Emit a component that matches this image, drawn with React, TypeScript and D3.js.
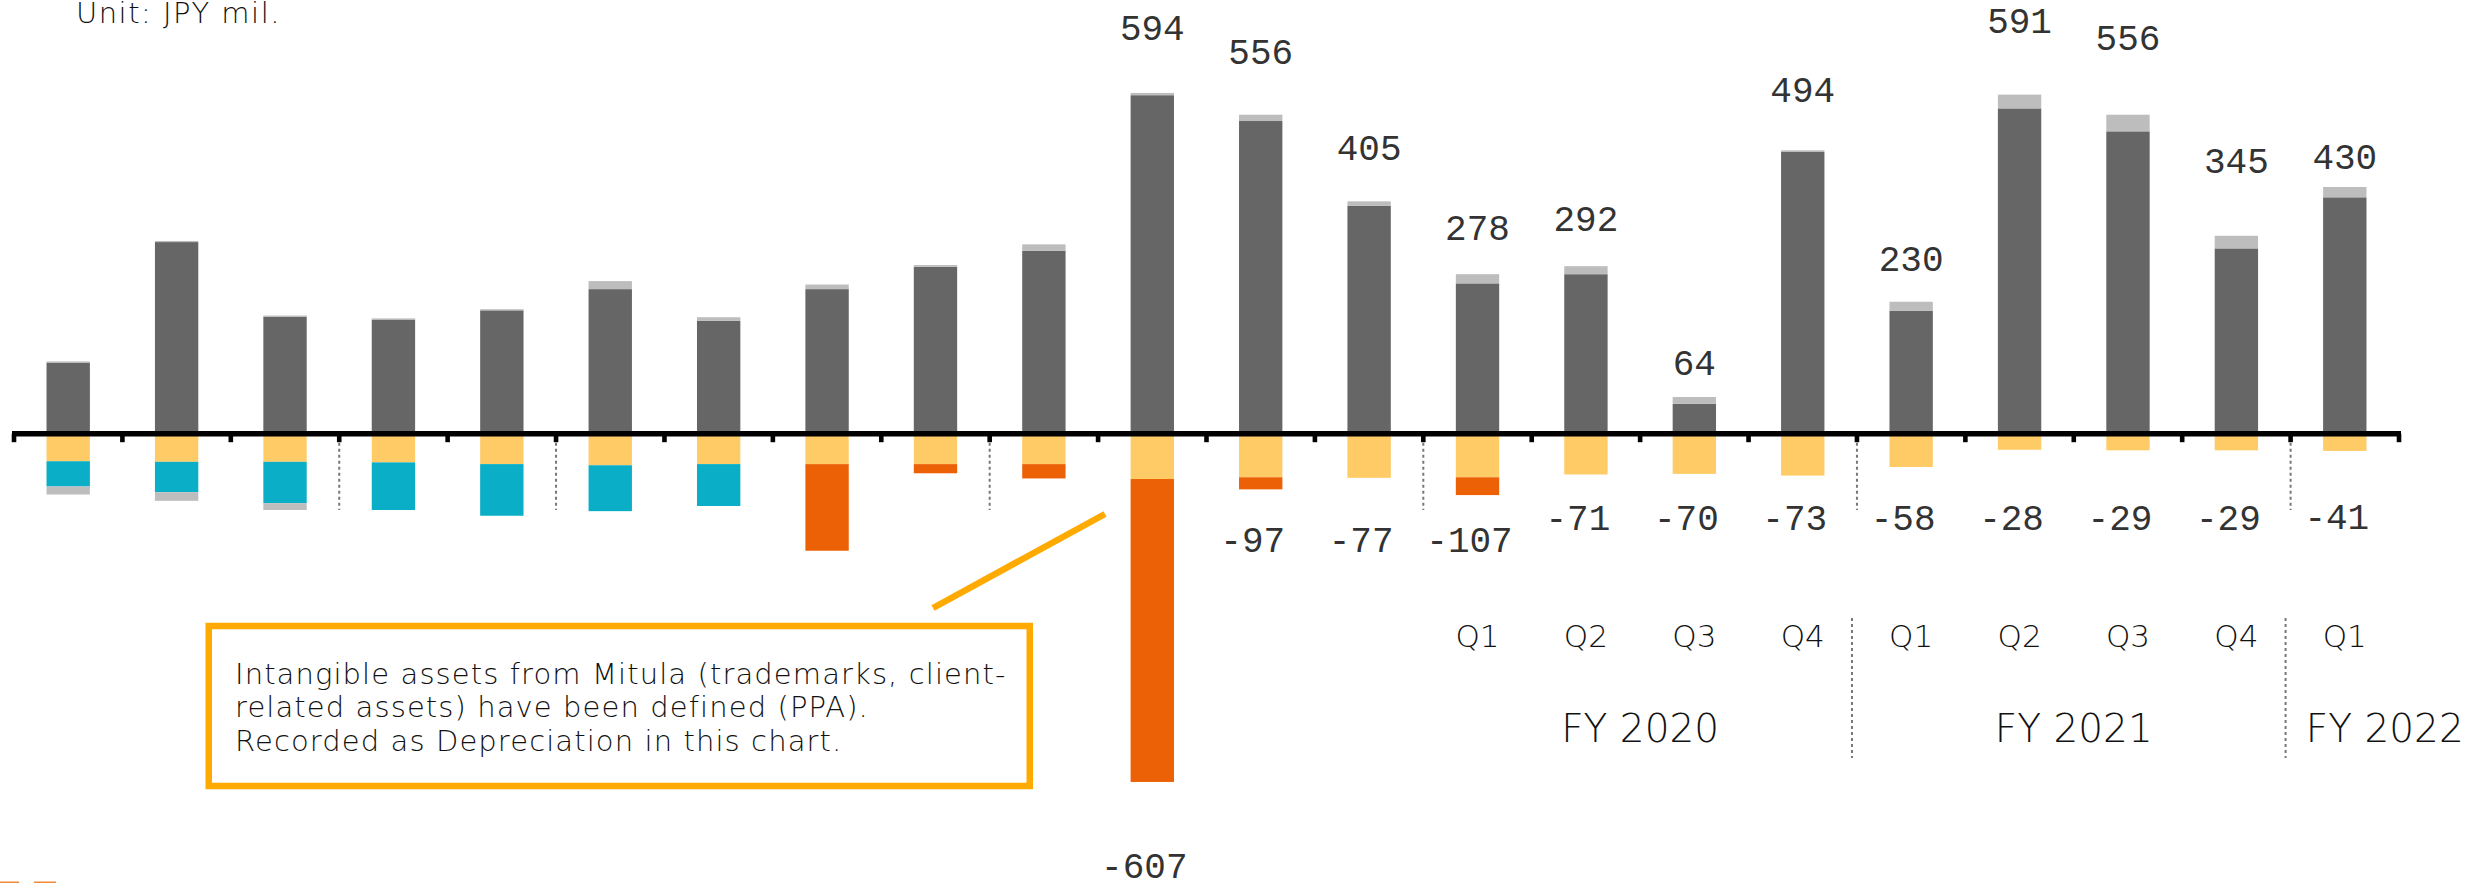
import React from "react";
import * as d3 from "d3";

// ---------------- DATA ----------------
const categories = [
  "P01", "P02", "P03", "P04", "P05", "P06", "P07", "P08", "P09", "P10", "P11",
  "P12", "P13", "FY2020 Q1", "FY2020 Q2", "FY2020 Q3", "FY2020 Q4",
  "FY2021 Q1", "FY2021 Q2", "FY2021 Q3", "FY2021 Q4", "FY2022 Q1",
];
const quarterLabels = [
  "", "", "", "", "", "", "", "", "", "", "", "", "",
  "Q1", "Q2", "Q3", "Q4", "Q1", "Q2", "Q3", "Q4", "Q1",
];
const fyNames = ["", "", "", "", "FY 2020", "FY 2021", "FY 2022"];
const fyStartIndex = [0, 3, 5, 9, 13, 17, 21];

// positive stack
const operatingProfit = [124, 334, 204, 199, 215, 252, 197, 252, 291, 319, 590, 545, 397, 262, 278, 52, 491, 214, 567, 527, 323, 412];
const otherPositive = [2, 2, 2, 2, 2, 14, 6, 8, 3, 11, 4, 11, 8, 16, 14, 12, 3, 16, 24, 29, 22, 18];
// negative stack
const depreciation = [-48, -49, -49, -50, -53, -55, -53, -53, -53, -53, -79, -76, -77, -76, -71, -70, -73, -58, -28, -29, -29, -30];
const goodwillAmort = [-44, -53, -72, -83, -90, -80, -73, 0, 0, 0, 0, 0, 0, 0, 0, 0, 0, 0, 0, 0, 0, 0];
const ppaAmort = [0, 0, 0, 0, 0, 0, 0, -151, -16, -25, -528, -21, 0, -31, 0, 0, 0, 0, 0, 0, 0, 0];
const otherNegative = [-14, -15, -12, 0, 0, 0, 0, 0, 0, 0, 0, 0, 0, 0, 0, 0, 0, 0, 0, 0, 0, 0];

const totalLabels = [null, null, null, null, null, null, null, null, null, null, 594, 556, 405, 278, 292, 64, 494, 230, 591, 556, 345, 430];
const costLabels = [null, null, null, null, null, null, null, null, null, null, -607, -97, -77, -107, -71, -70, -73, -58, -28, -29, -29, -41];

const annotationLines = [
  "Intangible assets from Mitula (trademarks, client-",
  "related assets) have been defined (PPA).",
  "Recorded as Depreciation in this chart.",
];
const unitText = "Unit: JPY mil.";

// ---------------- LAYOUT / STYLE ----------------
const W = 2479;
const H = 883;
const seriesKeys = ["operatingProfit", "otherPositive", "depreciation", "goodwillAmort", "ppaAmort", "otherNegative"];
const seriesColors: Record<string, string> = {
  operatingProfit: "#666666",
  otherPositive: "#BDBDBD",
  depreciation: "#FFCB66",
  goodwillAmort: "#0AAEC7",
  ppaAmort: "#EC6105",
  otherNegative: "#BDBDBD",
};
// label placement nudges (px above bar top) – irregular in the original
const topLabelGap = [0, 0, 0, 0, 0, 0, 0, 0, 0, 0, 53, 51, 41, 34, 35, 22, 48, 31, 62, 65, 63, 18];
const costLabelBaseline = [0, 0, 0, 0, 0, 0, 0, 0, 0, 0, 878, 552, 552, 552, 530, 530, 530, 530, 530, 530, 530, 529];

const monoFont = "'Liberation Mono', 'Courier New', monospace";
const sansFont = "'DejaVu Sans', 'Noto Sans', sans-serif";
const sansWeight = 200;

export default function App() {
  const rows = categories.map((c, i) => ({
    cat: c,
    operatingProfit: operatingProfit[i],
    otherPositive: otherPositive[i],
    depreciation: depreciation[i],
    goodwillAmort: goodwillAmort[i],
    ppaAmort: ppaAmort[i],
    otherNegative: otherNegative[i],
  }));

  const x = d3.scaleBand<string>().domain(categories).range([14, 2399]).paddingInner(0.6).paddingOuter(0.3);
  const y = d3.scaleLinear().domain([-700, 700]).range([835.3, 32.1]);
  const stacked = d3.stack<any>().keys(seriesKeys).offset(d3.stackOffsetDiverging)(rows);

  const step = x.step();
  const r0 = x.range()[0];
  const boundary = (i: number) => r0 + i * step;
  const y0 = y(0);
  const bw = x.bandwidth();

  const totals = rows.map((r) => r.operatingProfit + r.otherPositive);

  return (
    <svg width={W} height={H} style={{ position: "absolute", left: 0, top: 0, background: "#fff" }}>
      <rect x={0} y={0} width={W} height={H} fill="#fff" />
      <text x={76} y={23} fontFamily={sansFont} fontSize={29} letterSpacing={1.5} fontWeight={sansWeight} fill="#111">{unitText}</text>

      {/* bars */}
      {stacked.map((s) => (
        <g key={s.key} fill={seriesColors[s.key]}>
          {s.map((d, i) => {
            const top = y(Math.max(d[0], d[1]));
            const bot = y(Math.min(d[0], d[1]));
            if (bot - top <= 0) return null;
            return <rect key={i} x={x(categories[i])} y={top} width={bw} height={bot - top} />;
          })}
        </g>
      ))}

      {/* upper dashed group separators */}
      {fyStartIndex.slice(1).map((b) => (
        <line key={"ud" + b} x1={boundary(b)} x2={boundary(b)} y1={y0 + 3} y2={510} stroke="#777" strokeWidth={2} strokeDasharray="3 3" />
      ))}

      {/* axis */}
      <line x1={r0 - 2} x2={boundary(categories.length) + 2} y1={y0} y2={y0} stroke="#000" strokeWidth={5.5} />
      {d3.range(categories.length + 1).map((i) => (
        <rect key={"t" + i} x={boundary(i) - 2.3} y={y0} width={4.6} height={8.5} fill="#000" />
      ))}

      {/* value labels */}
      {totalLabels.map((v, i) =>
        v == null ? null : (
          <text key={"tl" + i} x={(x(categories[i]) as number) + bw / 2} y={y(totals[i]) - topLabelGap[i]} textAnchor="middle" fontFamily={monoFont} fontSize={36} fill="#333">
            {v}
          </text>
        )
      )}
      {costLabels.map((v, i) =>
        v == null ? null : (
          <text key={"cl" + i} x={(x(categories[i]) as number) + bw / 2 - 8} y={costLabelBaseline[i]} textAnchor="middle" fontFamily={monoFont} fontSize={36} fill="#333">
            {v}
          </text>
        )
      )}

      {/* quarter labels */}
      {quarterLabels.map((q, i) =>
        q ? (
          <text key={"q" + i} x={(x(categories[i]) as number) + bw / 2} y={647} textAnchor="middle" fontFamily={sansFont} fontSize={31} fontWeight={sansWeight} fill="#111">
            {q}
          </text>
        ) : null
      )}

      {/* fiscal-year labels and lower separators */}
      {fyNames.map((n, g) => {
        if (!n) return null;
        const s = boundary(fyStartIndex[g]);
        const e = g + 1 < fyStartIndex.length ? boundary(fyStartIndex[g + 1]) : W;
        return (
          <text key={"fy" + g} x={(s + e) / 2} y={742} textAnchor="middle" fontFamily={sansFont} fontSize={39} fontWeight={sansWeight} fill="#111">
            {n}
          </text>
        );
      })}
      {fyStartIndex.slice(1).map((b, k) =>
        fyNames[k] && fyNames[k + 1] ? (
          <line key={"ld" + b} x1={boundary(b) - 5} x2={boundary(b) - 5} y1={618} y2={758} stroke="#777" strokeWidth={2} strokeDasharray="3 3" />
        ) : null
      )}

      {/* annotation */}
      <line x1={933} y1={608} x2={1105} y2={514} stroke="#FFAA00" strokeWidth={6.5} />
      <rect x={208.75} y={626} width={821} height={160} fill="#fff" stroke="#FFAA00" strokeWidth={6.5} />
      {annotationLines.map((l, k) => (
        <text key={"an" + k} x={235} y={684 + k * 33.4} fontFamily={sansFont} fontSize={29} letterSpacing={1.1} fontWeight={sansWeight} fill="#111">
          {l}
        </text>
      ))}

      {/* cropped logo fragments at bottom-left */}
      <rect x={0} y={881.5} width={19} height={2} fill="#F08A3A" />
      <rect x={34} y={881.5} width={22} height={2} fill="#F08A3A" />
    </svg>
  );
}
